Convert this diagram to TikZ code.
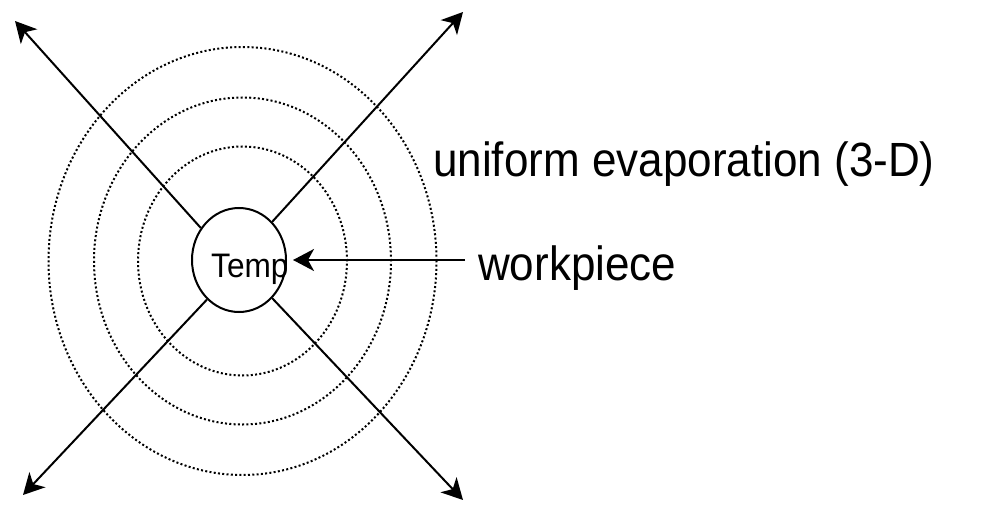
\documentclass[tikz,border=0pt]{standalone}
\usepackage{fontspec}
\setmainfont{Liberation Sans}
\newfontfamily\labfont[FakeStretch=0.917]{Liberation Sans}
\newfontfamily\tempfont[FakeStretch=0.93]{Liberation Sans}
\usetikzlibrary{arrows.meta,shapes.geometric}
\begin{document}
\begin{tikzpicture}[x=1pt,y=-1pt,
  wave/.style={line width=2pt, dash pattern=on 2pt off 2.3pt},
  ray/.style={line width=2pt, -{Stealth[length=21pt,width=22pt,inset=6pt]}},
  bigtext/.style={inner sep=0pt, anchor=base west, font=\labfont\fontsize{48}{54}\selectfont},
  smalltext/.style={inner sep=0pt, anchor=base west, font=\tempfont\fontsize{34}{38}\selectfont}]
\useasboundingbox (0,0) rectangle (981,505);
\fill[white] (0,0) rectangle (981,505);
% dotted waves
\draw[wave] (242.5,261) ellipse [x radius=194pt, y radius=214pt];
\draw[wave] (242.5,261) ellipse [x radius=148.5pt, y radius=163.5pt];
\draw[wave] (242.5,261) ellipse [x radius=104.5pt, y radius=114.5pt];
% workpiece
\node[ellipse, draw, line width=2pt, inner sep=0pt, minimum width=94pt, minimum height=104pt] (wp) at (239,260) {};
\node[smalltext] (temp) at (211,277) {Temp};
% ray ends
\coordinate (tnw) at (15,21);
\coordinate (tne) at (463,12);
\coordinate (tsw) at (23,495);
\coordinate (tse) at (463,500);
\coordinate (win) at (465,260);
\draw[ray] (wp.140.6) -- (tnw);
\draw[ray] (wp.49) -- (tne);
\draw[ray] (wp.231.3) -- (tsw);
\draw[ray] (wp.311.9) -- (tse);
\draw[ray, shorten >=6pt] (win) -- (wp.east);
% labels
\node[bigtext] (uni) at (433,176) {uniform evaporation (3-D)};
\node[bigtext] (wlab) at (478,280) {workpiece};
\end{tikzpicture}
\end{document}
